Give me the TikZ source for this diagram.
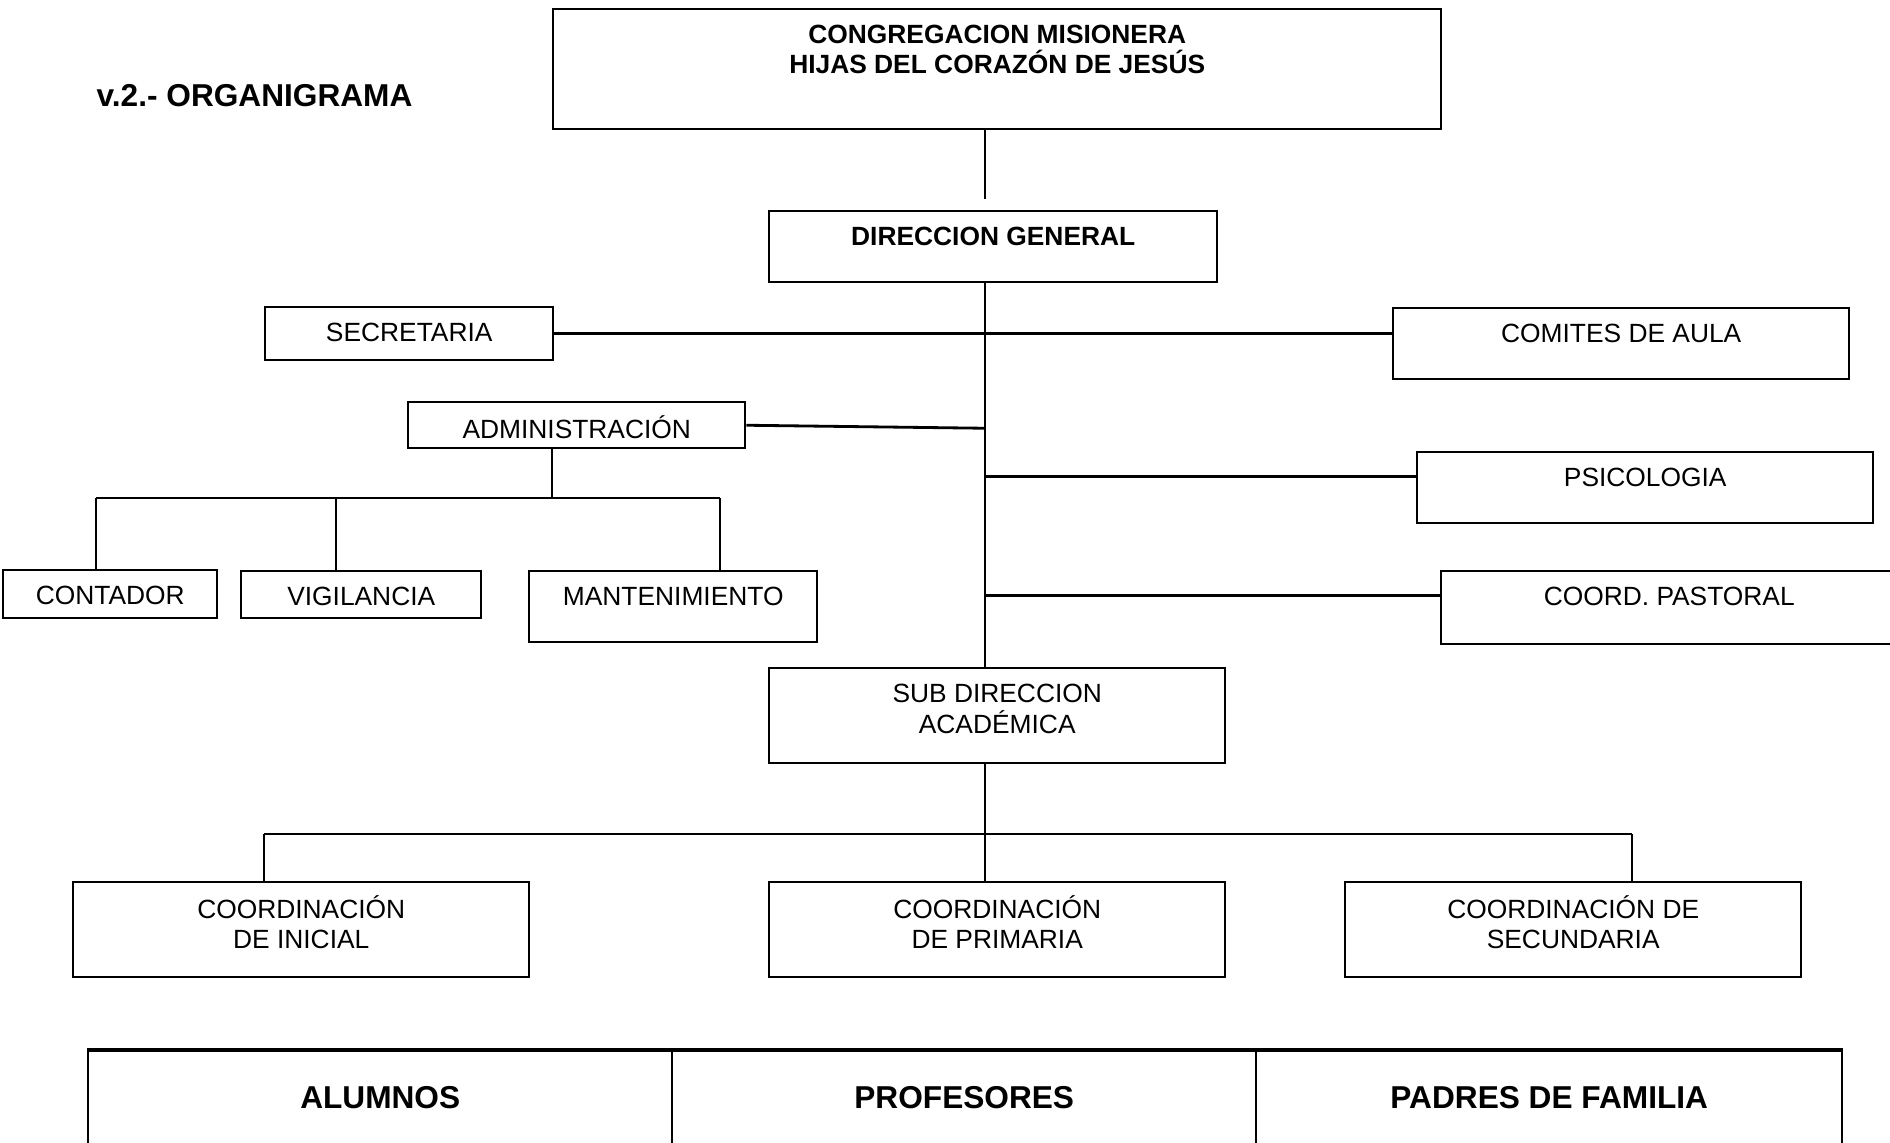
\documentclass[tikz,border=0pt]{standalone}
\usepackage{fontspec}
\setmainfont{Liberation Sans}

\tikzset{
  box/.style={draw, line width=0.7pt, anchor=north west, inner sep=0pt},
  txt/.style={align=center, inner sep=0pt, font=\fontsize{7.5}{8.6}\selectfont},
  btxt/.style={txt, font=\fontsize{7.5}{8.6}\selectfont\bfseries},
  big/.style={inner sep=0pt, font=\fontsize{9}{10.5}\selectfont\bfseries},
  thin/.style={line width=0.4pt},
  link/.style={line width=0.8pt},
}

\begin{document}
\begin{tikzpicture}
    \useasboundingbox (0,0) rectangle (18.9,-11.42);
    % heading
    \node[big, anchor=west] (head) at (0.96,-0.96) {v.2.- ORGANIGRAMA};

    % boxes
    \node[box, minimum width=8.88cm, minimum height=1.20cm] (cong) at (5.52,-0.08) {};
    \node[box, minimum width=4.48cm, minimum height=0.71cm] (dg) at (7.68,-2.10) {};
    \node[box, minimum width=2.88cm, minimum height=0.53cm] (sec) at (2.64,-3.06) {};
    \node[box, minimum width=4.56cm, minimum height=0.71cm] (com) at (13.92,-3.07) {};
    \node[box, minimum width=3.37cm, minimum height=0.46cm] (adm) at (4.07,-4.01) {};
    \node[box, minimum width=4.56cm, minimum height=0.71cm] (psi) at (14.16,-4.51) {};
    \node[box, minimum width=4.56cm, minimum height=0.73cm] (pas) at (14.40,-5.70) {};
    \node[box, minimum width=2.14cm, minimum height=0.48cm] (con) at (0.02,-5.69) {};
    \node[box, minimum width=2.40cm, minimum height=0.47cm] (vig) at (2.40,-5.70) {};
    \node[box, minimum width=2.88cm, minimum height=0.71cm] (man) at (5.28,-5.70) {};
    \node[box, minimum width=4.56cm, minimum height=0.95cm] (sub) at (7.68,-6.67) {};
    \node[box, minimum width=4.56cm, minimum height=0.95cm] (ini) at (0.72,-8.81) {};
    \node[box, minimum width=4.56cm, minimum height=0.95cm] (pri) at (7.68,-8.81) {};
    \node[box, minimum width=4.56cm, minimum height=0.95cm] (scd) at (13.44,-8.81) {};
    \node[box, minimum width=5.84cm, minimum height=1.20cm] (alu) at (0.87,-10.50) {};
    \node[box, minimum width=5.84cm, minimum height=1.20cm] (pro) at (6.71,-10.50) {};
    \node[box, minimum width=5.86cm, minimum height=1.20cm] (pad) at (12.55,-10.50) {};
    \draw[line width=1.4pt] (alu.north west) -- (pad.north east);

    % texts
    \node[btxt] (cong-t) at ([yshift=-0.415cm]cong.north) {CONGREGACION MISIONERA\\HIJAS DEL CORAZÓN DE JESÚS};
    \node[btxt] (dg-t) at ([yshift=-0.26cm]dg.north) {DIRECCION GENERAL};
    \node[txt] (sec-t) at ([yshift=-0.26cm]sec.north) {SECRETARIA};
    \node[txt] (com-t) at ([yshift=-0.26cm]com.north) {COMITES DE AULA};
    \node[txt] (adm-t) at ([yshift=-0.26cm]adm.north) {ADMINISTRACIÓN};
    \node[txt] (psi-t) at ([yshift=-0.26cm]psi.north) {PSICOLOGIA};
    \node[txt] (pas-t) at ([yshift=-0.26cm]pas.north) {COORD. PASTORAL};
    \node[txt] (con-t) at ([yshift=-0.26cm]con.north) {CONTADOR};
    \node[txt] (vig-t) at ([yshift=-0.26cm]vig.north) {VIGILANCIA};
    \node[txt] (man-t) at ([yshift=-0.26cm]man.north) {MANTENIMIENTO};
    \node[txt] (sub-t) at ([yshift=-0.42cm]sub.north) {SUB DIRECCION\\ACADÉMICA};
    \node[txt] (ini-t) at ([yshift=-0.41cm]ini.north) {COORDINACIÓN\\DE INICIAL};
    \node[txt] (pri-t) at ([yshift=-0.41cm]pri.north) {COORDINACIÓN\\DE PRIMARIA};
    \node[txt] (scd-t) at ([yshift=-0.41cm]scd.north) {COORDINACIÓN DE\\SECUNDARIA};
    \node[big] (alu-t) at ([yshift=-0.48cm]alu.north) {ALUMNOS};
    \node[big] (pro-t) at ([yshift=-0.48cm]pro.north) {PROFESORES};
    \node[big] (pad-t) at ([yshift=-0.48cm]pad.north) {PADRES DE FAMILIA};

    % connectors
    \coordinate (trunk) at (9.85,0);
    \draw[thin] (cong.south -| trunk) -- ([yshift=0.11cm]dg.north -| trunk);
    \draw[thin] (dg.south -| trunk) -- (sub.north -| trunk);
    \draw[link] (sec.east) -- (sec.east -| com.west);
    \draw[link] (adm.east) -- ([yshift=-0.03cm]adm.east -| trunk);
    \draw[link] ([yshift=0.11cm]psi.west) -- ([yshift=0.11cm]psi.west -| trunk);
    \draw[link] ([yshift=0.12cm]pas.west) -- ([yshift=0.12cm]pas.west -| trunk);

    \coordinate (admbus) at (5.52,-4.98);
    \coordinate (busl) at (0.96,-4.98);
    \coordinate (busm) at (3.36,-4.98);
    \coordinate (busr) at (7.20,-4.98);
    \draw[thin] (adm.south -| admbus) -- (admbus);
    \draw[link] (busl) -- (busr);
    \draw[thin] (busl) -- (busl |- con.north);
    \draw[thin] (busm) -- (busm |- vig.north);
    \draw[thin] (busr) -- (busr |- man.north);

    \coordinate (cbl) at (2.64,-8.34);
    \coordinate (cbr) at (16.32,-8.34);
    \draw[thin] (sub.south -| trunk) -- (pri.north -| trunk);
    \draw[link] (cbl) -- (cbr);
    \draw[thin] (cbl) -- (cbl |- ini.north);
    \draw[thin] (cbr) -- (cbr |- scd.north);
\end{tikzpicture}
\end{document}
